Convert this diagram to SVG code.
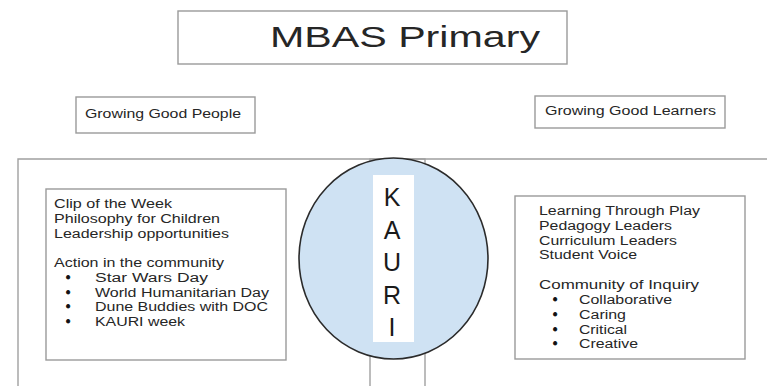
<svg xmlns="http://www.w3.org/2000/svg" width="767" height="386" viewBox="0 0 767 386">
<style>
.box{fill:#fff;stroke:#9a9a9a;stroke-width:1.4}
.frame{fill:none;stroke:#a0a0a0;stroke-width:1.4}
text{font-family:"Liberation Sans",Arial,sans-serif;fill:#262626}
.t12{font-size:12px}
.b{font-size:12px;text-anchor:middle;fill:#111;stroke:#111;stroke-width:0.9}
.k{font-size:25px;text-anchor:middle;fill:#1a1a1a}
</style>
<rect width="767" height="386" fill="#fff"/>
<g id="connectors">
<path class="frame" d="M425,400 V159 H18 V400"/>
<path class="frame" d="M370,400 V159 H780"/>
</g>
<g id="title">
<rect class="box" x="178" y="11" width="389" height="53"/>
<text x="270" y="47" font-size="30" textLength="270" lengthAdjust="spacingAndGlyphs">MBAS Primary</text>
</g>
<g id="people">
<rect class="box" x="76" y="97" width="179" height="36"/>
<text class="t12" x="85" y="118" textLength="156" lengthAdjust="spacingAndGlyphs">Growing Good People</text>
</g>
<g id="learners">
<rect class="box" x="535" y="96" width="190" height="32"/>
<text class="t12" x="545" y="115" textLength="171" lengthAdjust="spacingAndGlyphs">Growing Good Learners</text>
</g>
<g id="kauri">
<ellipse cx="393.5" cy="258.5" rx="94.5" ry="100.5" fill="#cfe2f3" stroke="#2b2b2b" stroke-width="1.6"/>
<rect x="373" y="175" width="41" height="167" fill="#fff"/>
<text class="k" x="392" y="206">K</text>
<text class="k" x="392" y="238.5">A</text>
<text class="k" x="392" y="271">U</text>
<text class="k" x="392" y="303.5">R</text>
<text class="k" x="392" y="336">I</text>
</g>
<g id="people-list">
<rect class="box" x="46" y="189" width="240" height="171"/>
<g class="t12">
<text x="54" y="208" textLength="118" lengthAdjust="spacingAndGlyphs">Clip of the Week</text>
<text x="54" y="223" textLength="166" lengthAdjust="spacingAndGlyphs">Philosophy for Children</text>
<text x="54" y="237.5" textLength="175" lengthAdjust="spacingAndGlyphs">Leadership opportunities</text>
<text x="54" y="267" textLength="170" lengthAdjust="spacingAndGlyphs">Action in the community</text>
<text class="b" x="68" y="282">•</text><text x="95" y="282" textLength="113" lengthAdjust="spacingAndGlyphs">Star Wars Day</text>
<text class="b" x="68" y="296.5">•</text><text x="95" y="296.5" textLength="174" lengthAdjust="spacingAndGlyphs">World Humanitarian Day</text>
<text class="b" x="68" y="311">•</text><text x="95" y="311" textLength="173" lengthAdjust="spacingAndGlyphs">Dune Buddies with DOC</text>
<text class="b" x="68" y="326">•</text><text x="95" y="326" textLength="90" lengthAdjust="spacingAndGlyphs">KAURI week</text>
</g>
</g>
<g id="learners-list">
<rect class="box" x="515" y="196" width="230" height="163"/>
<g class="t12">
<text x="539" y="215" textLength="161" lengthAdjust="spacingAndGlyphs">Learning Through Play</text>
<text x="539" y="230" textLength="133" lengthAdjust="spacingAndGlyphs">Pedagogy Leaders</text>
<text x="539" y="244.5" textLength="138" lengthAdjust="spacingAndGlyphs">Curriculum Leaders</text>
<text x="539" y="259" textLength="98" lengthAdjust="spacingAndGlyphs">Student Voice</text>
<text x="539" y="289" textLength="160" lengthAdjust="spacingAndGlyphs">Community of Inquiry</text>
<text class="b" x="555" y="304">•</text><text x="579" y="304" textLength="93" lengthAdjust="spacingAndGlyphs">Collaborative</text>
<text class="b" x="555" y="319">•</text><text x="579" y="319" textLength="47" lengthAdjust="spacingAndGlyphs">Caring</text>
<text class="b" x="555" y="333.5">•</text><text x="579" y="333.5" textLength="48" lengthAdjust="spacingAndGlyphs">Critical</text>
<text class="b" x="555" y="348">•</text><text x="579" y="348" textLength="59" lengthAdjust="spacingAndGlyphs">Creative</text>
</g>
</g>
</svg>
